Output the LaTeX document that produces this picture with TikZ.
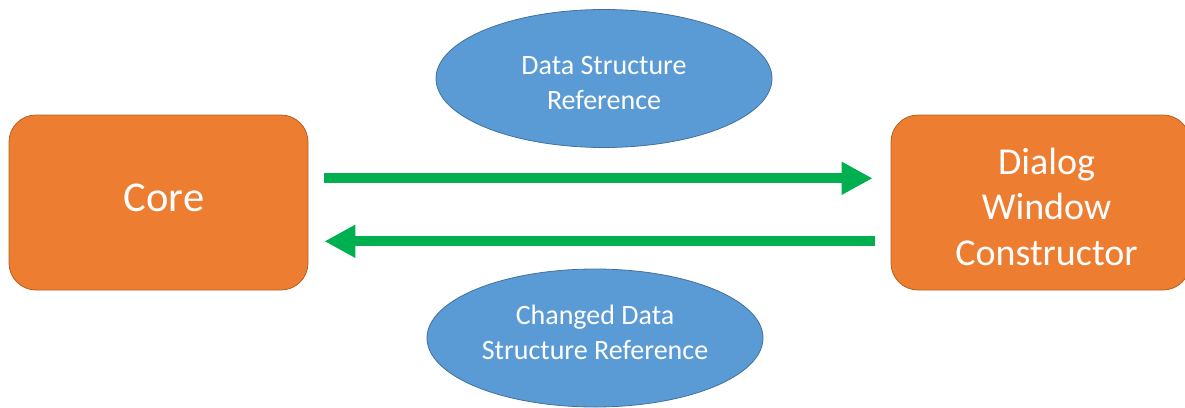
\documentclass[tikz,border=0pt]{standalone}
\usepackage{fontspec}
\setmainfont{Carlito}
\usetikzlibrary{arrows.meta,shapes.geometric}
\definecolor{boxorange}{HTML}{ED7D31}
\definecolor{boxedge}{HTML}{B8601F}
\definecolor{ovalblue}{HTML}{5B9BD5}
\definecolor{ovaledge}{HTML}{41719C}
\definecolor{flowgreen}{HTML}{00B050}
\tikzset{
  module/.style={draw=boxedge, line width=0.8pt, fill=boxorange, rounded corners=27pt,
    minimum width=299pt, minimum height=175pt, inner sep=0pt},
  message/.style={ellipse, draw=ovaledge, line width=0.8pt, fill=ovalblue,
    minimum width=336pt, minimum height=138pt, inner sep=0pt},
  caption/.style={text=white, align=center, inner sep=0pt},
  msgtext/.style={caption, font=\fontsize{28}{35}\selectfont},
  flow/.style={draw=flowgreen, line width=10pt,
    -{Triangle[length=31pt,width=31pt]}}
}
\begin{document}
\begin{tikzpicture}[x=1pt,y=-1pt]
  \useasboundingbox (0,0) rectangle (1185,407);
  % the two communicating parts
  \node[module, label={[caption, font=\fontsize{42.5}{50}\selectfont, xshift=5.5pt, yshift=5pt]center:Core}]
    (core) at (158.5,202.5) {};
  \node[module, label={[caption, font=\fontsize{38}{45.5}\selectfont, xshift=6pt, yshift=-4pt]center:Dialog\\Window\\Constructor}]
    (dialog) at (1040.5,202.5) {};
  % what is passed between them
  \node[message, label={[msgtext, yshift=-5pt]center:Data Structure\\Reference}]
    (sent) at (604,78.5) {};
  \node[message, label={[msgtext, yshift=5.5pt]center:Changed Data\\Structure Reference}]
    (returned) at (595,338) {};
  % anchor points on the facing sides
  \coordinate (coreTop) at ([xshift=16pt,yshift=24.2pt]core.east);
  \coordinate (dialogTop) at ([xshift=-18pt,yshift=24.2pt]dialog.west);
  \coordinate (coreBot) at ([xshift=16pt,yshift=-38.8pt]core.east);
  \coordinate (dialogBot) at ([xshift=-16pt,yshift=-38.8pt]dialog.west);
  \draw[flow] (coreTop) -- (dialogTop);
  \draw[flow] (dialogBot) -- (coreBot);
\end{tikzpicture}
\end{document}
